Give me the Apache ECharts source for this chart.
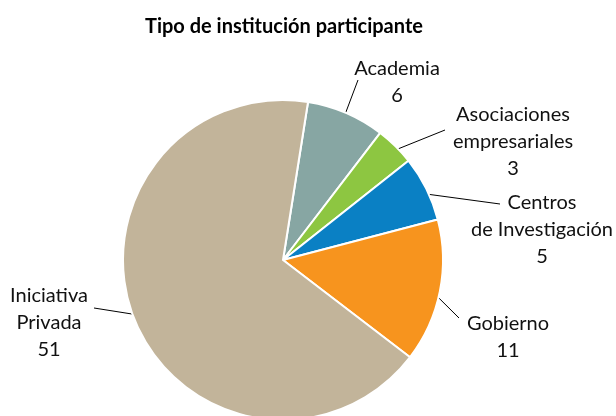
<!DOCTYPE html>
<html>
<head>
    <meta charset="utf-8">
    <title>Tipo de institución participante</title>
    <style>
        html, body { margin: 0; padding: 0; background: #fff; }
        #charts { width: 616px; height: 416px; }
    </style>
    <script src="https://cdn.jsdelivr.net/npm/echarts@6/dist/echarts.min.js"></script>
</head>
<body>
<div id="charts"></div>
<script>
var categories = ['Academia', 'Asociaciones\nempresariales', 'Centros\nde Investigación', 'Gobierno', 'Iniciativa\nPrivada'];
var values = [6, 3, 5, 11, 51];
var colors = ['#87a6a3', '#8dc641', '#0a80c4', '#f7941e', '#c2b49a'];

// label placement as in the original (block centre) and where each leader line ends
var labelSpots = [[397, 82], [513, 142], [542, 230], [508, 337], [49, 323]];
var lineEnds = [[358, 80], [445, 130], [500, 204], [459, 318], [94, 308]];
var pieCenter = [283, 260];
var pieRadius = 160;
var startAngle = 81;

var myChart = echarts.init(document.getElementById('charts'));

var total = 0;
for (var k = 0; k < values.length; k++) total += values[k];

var data = [];
for (var i = 0; i < categories.length; i++) {
    data.push({ name: categories[i], value: values[i], itemStyle: { color: colors[i] } });
}

// point a bit inside the slice on its middle angle
function leaderStart(idx) {
    var before = 0;
    for (var j = 0; j < idx; j++) before += values[j];
    var mid = (startAngle - (before + values[idx] / 2) / total * 360) * Math.PI / 180;
    var r = pieRadius * 0.94;
    return [pieCenter[0] + r * Math.cos(mid), pieCenter[1] - r * Math.sin(mid)];
}

var option = {
    animation: false,
    title: {
        text: 'Tipo de institución participante',
        left: 140,
        top: 12,
        textStyle: { fontFamily: 'Lato', fontSize: 20, fontWeight: 'bold', color: '#000' }
    },
    series: [{
        type: 'pie',
        center: pieCenter,
        radius: pieRadius,
        startAngle: startAngle,
        clockwise: true,
        data: data,
        itemStyle: { borderColor: '#fff', borderWidth: 2 },
        label: {
            show: true,
            formatter: '{b}\n{c}',
            fontFamily: 'Lato',
            fontSize: 20,
            lineHeight: 27,
            color: '#111',
            align: 'center'
        },
        labelLine: {
            show: true,
            length: 0,
            length2: 0,
            lineStyle: { color: '#000', width: 1 }
        },
        labelLayout: function (params) {
            var p = labelSpots[params.dataIndex];
            return {
                x: p[0], y: p[1], align: 'center', verticalAlign: 'middle',
                labelLinePoints: [leaderStart(params.dataIndex), lineEnds[params.dataIndex]]
            };
        }
    }]
};

myChart.setOption(option);
</script>
</body>
</html>
